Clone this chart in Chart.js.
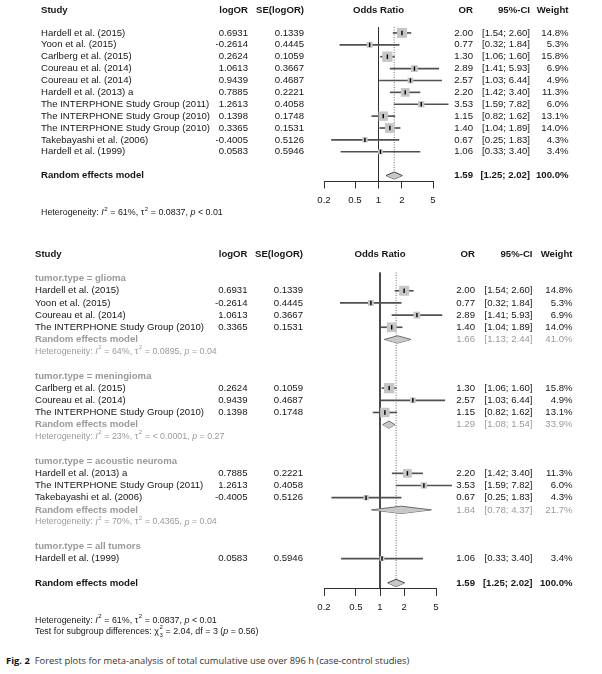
<!DOCTYPE html>
<html>
<head>
<meta charset="utf-8">
<script src="https://cdn.jsdelivr.net/npm/chart.js@4.4.0/dist/chart.umd.min.js"></script>
<style>
body { margin: 0; background: #fff; }
#wrap { position: relative; width: 602px; height: 674px; overflow: hidden; }
#c1 { position: absolute; left: 0; top: 0; }
#c2 { position: absolute; left: 0; top: 228px; }
#cap { position: absolute; left: 6px; top: 654px; font-family: 'Open Sans', sans-serif; font-size: 9.4px; color: #333; white-space: nowrap; }
#cap b { color: #111; }
</style>
</head>
<body>
<div id="wrap">
<canvas id="c1" width="602" height="228" style="width:602px;height:228px"></canvas>
<canvas id="c2" width="602" height="420" style="width:602px;height:420px"></canvas>
<div id="cap"><b>Fig. 2</b>&nbsp; Forest plots for meta-analysis of total cumulative use over 896 h (case-control studies)</div>
</div>
<script>
// studies, in the order of the first panel
var studies = ['Hardell et al. (2015)', 'Yoon et al. (2015)', 'Carlberg et al. (2015)', 'Coureau et al. (2014)',
  'Coureau et al. (2014)', 'Hardell et al. (2013) a', 'The INTERPHONE Study Group (2011)',
  'The INTERPHONE Study Group (2010)', 'The INTERPHONE Study Group (2010)', 'Takebayashi et al. (2006)',
  'Hardell et al. (1999)'];
var logOR = [0.6931, -0.2614, 0.2624, 1.0613, 0.9439, 0.7885, 1.2613, 0.1398, 0.3365, -0.4005, 0.0583];
var seLogOR = [0.1339, 0.4445, 0.1059, 0.3667, 0.4687, 0.2221, 0.4058, 0.1748, 0.1531, 0.5126, 0.5946];
var oddsRatio = [2.00, 0.77, 1.30, 2.89, 2.57, 2.20, 3.53, 1.15, 1.40, 0.67, 1.06];
var ciLow = [1.54, 0.32, 1.06, 1.41, 1.03, 1.42, 1.59, 0.82, 1.04, 0.25, 0.33];
var ciHigh = [2.60, 1.84, 1.60, 5.93, 6.44, 3.40, 7.82, 1.62, 1.89, 1.83, 3.40];
var weight = [14.8, 5.3, 15.8, 6.9, 4.9, 11.3, 6.0, 13.1, 14.0, 4.3, 3.4];
var tumorType = ['glioma', 'glioma', 'meningioma', 'glioma', 'meningioma', 'acoustic neuroma',
  'acoustic neuroma', 'meningioma', 'glioma', 'acoustic neuroma', 'all tumors'];

// subgroups (random effects)
var groups = ['glioma', 'meningioma', 'acoustic neuroma', 'all tumors'];
var groupOR = [1.66, 1.29, 1.84, null];
var groupLow = [1.13, 1.08, 0.78, null];
var groupHigh = [2.44, 1.54, 4.37, null];
var groupWeight = [41.0, 33.9, 21.7, null];
var groupI2 = ['64%', '23%', '70%', null];
var groupTau2 = ['0.0895', '< 0.0001', '0.4365', null];
var groupP = ['= 0.04', '= 0.27', '= 0.04', null];

// overall random effects model
var overall = { or: 1.59, low: 1.25, high: 2.02, weight: 100.0 };
var overallHet = { i2: '61%', tau2: '0.0837', p: '< 0.01' };
var subgroupTest = { chi2: '2.04', df: '3', p: '0.56' };

var xTicks = [0.2, 0.5, 1, 2, 5];

var FONT = "'Liberation Sans', Arial, sans-serif";
var BLACK = '#161616', GRAY = '#9a9a9a';
var FS = 9.6, FS_SMALL = 8.9, DH = 0.3;

function hetParts(i2, tau2, p) {
  return [['Heterogeneity: ', 'n'], ['I', 'i'], ['2', 'sup'], [' = ' + i2 + ', ', 'n'], ['\u03c4', 'n'], ['2', 'sup'],
    [' = ' + tau2 + ', ', 'n'], ['p', 'i'], [' ' + p, 'n']];
}

function drawRich(ctx, x, y, parts, size, color) {
  ctx.fillStyle = color;
  ctx.textAlign = 'left';
  ctx.textBaseline = 'middle';
  parts.forEach(function (p) {
    if (p[1] === 'sup' || p[1] === 'supsub') {
      ctx.font = (size * 0.68) + 'px ' + FONT;
      var w = ctx.measureText(p[0]).width;
      ctx.fillText(p[0], x + 0.6, y - size * 0.45);
      if (p[1] === 'supsub') {
        ctx.fillText(p[2], x + 0.6, y + size * 0.42);
        w = Math.max(w, ctx.measureText(p[2]).width);
      }
      x += w + 0.8;
    } else {
      ctx.font = (p[1] === 'i' ? 'italic ' : '') + size + 'px ' + FONT;
      ctx.fillText(p[0], x, y);
      x += ctx.measureText(p[0]).width;
    }
  });
}

var tablePlugin = {
  id: 'table',
  afterDraw: function (chart) {
    var o = chart.options.plugins.table;
    var ctx = chart.ctx, ys = chart.scales.y, area = chart.chartArea, c = o.cols;
    ctx.save();
    function txt(s, x, r, align, bold, color) {
      ctx.font = (bold ? 'bold ' : '') + FS + 'px ' + FONT;
      ctx.fillStyle = color || BLACK;
      ctx.textAlign = align;
      ctx.textBaseline = 'middle';
      ctx.fillText(s, x, ys.getPixelForValue(r));
    }
    var h = o.headerRow;
    txt('Study', c.study, h, 'left', true);
    txt('logOR', c.logOR, h, 'right', true);
    txt('SE(logOR)', c.se, h, 'right', true);
    txt('Odds Ratio', (area.left + area.right) / 2, h, 'center', true);
    txt('OR', c.or, h, 'right', true);
    txt('95%-CI', c.ci, h, 'right', true);
    txt('Weight', c.w, h, 'right', true);
    o.rows.forEach(function (row) {
      var r = row.r;
      if (row.kind === 'study') {
        var i = row.i;
        txt(studies[i], c.study, r, 'left', false);
        txt(logOR[i].toFixed(4), c.logOR, r, 'right', false);
        txt(seLogOR[i].toFixed(4), c.se, r, 'right', false);
        txt(oddsRatio[i].toFixed(2), c.or, r, 'right', false);
        txt('[' + ciLow[i].toFixed(2) + '; ' + ciHigh[i].toFixed(2) + ']', c.ci, r, 'right', false);
        txt(weight[i].toFixed(1) + '%', c.w, r, 'right', false);
      } else if (row.kind === 'group') {
        txt('tumor.type = ' + groups[row.g], c.study, r, 'left', true, GRAY);
      } else if (row.kind === 'sub' || row.kind === 'overall') {
        var col = row.kind === 'sub' ? GRAY : BLACK, b = row.kind === 'overall';
        txt('Random effects model', c.study, r, 'left', true, col);
        txt(row.or.toFixed(2), c.or, r, 'right', b, col);
        txt('[' + row.low.toFixed(2) + '; ' + row.high.toFixed(2) + ']', c.ci, r, 'right', b, col);
        txt(row.weight.toFixed(1) + '%', c.w, r, 'right', b, col);
      } else if (row.kind === 'het') {
        drawRich(ctx, c.study, ys.getPixelForValue(r), row.parts, row.size || FS_SMALL, row.color || BLACK);
      }
    });
    ctx.restore();
  }
};

function forest(id, rows, o) {
  var st = rows.filter(function (r) { return r.kind === 'study'; });
  var sums = rows.filter(function (r) { return r.kind === 'sub' || r.kind === 'overall'; });
  var ovRow = rows.filter(function (r) { return r.kind === 'overall'; })[0].r;
  var pts = st.map(function (r) { return { x: oddsRatio[r.i], y: r.r }; });
  var ds = [
    { type: 'scatter', data: pts, pointStyle: 'line', pointRotation: 90, pointRadius: 2.2,
      pointBorderColor: '#000', pointBorderWidth: 1.4, order: 0, clip: false },
    { type: 'scatter', data: pts, pointStyle: 'rect',
      pointRadius: st.map(function (r) { return 2.6 * Math.sqrt(weight[r.i]) / 1.414; }),
      pointBackgroundColor: '#c6c6c6', pointBorderWidth: 0, order: 1, clip: false },
    { type: 'bar', indexAxis: 'y', data: st.map(function (r) { return { x: [ciLow[r.i], ciHigh[r.i]], y: r.r }; }),
      backgroundColor: '#505050', barThickness: 1, order: 2, clip: false },
    { type: 'line', data: [{ x: 1, y: o.yMin }, { x: 1, y: o.yMax }], borderColor: '#303030', borderWidth: 1,
      pointRadius: 0, order: 5, clip: false },
    { type: 'line', data: [{ x: overall.or, y: o.yMin }, { x: overall.or, y: ovRow - DH }], borderColor: '#707070',
      borderWidth: 1, borderDash: [1, 1.5], pointRadius: 0, order: 5, clip: false }
  ];
  sums.forEach(function (s) {
    var edge = s.kind === 'sub' ? '#6a6a6a' : '#404040';
    ds.push({ type: 'line', data: [{ x: s.low, y: s.r }, { x: s.or, y: s.r - DH }, { x: s.high, y: s.r }],
      borderColor: edge, borderWidth: 1, backgroundColor: '#c8c8c8', fill: '+1', pointRadius: 0, order: 3, clip: false });
    ds.push({ type: 'line', data: [{ x: s.low, y: s.r }, { x: s.or, y: s.r + DH }, { x: s.high, y: s.r }],
      borderColor: edge, borderWidth: 1, fill: false, pointRadius: 0, order: 3, clip: false });
  });
  return new Chart(document.getElementById(id), {
    type: 'scatter',
    data: { datasets: ds },
    plugins: [tablePlugin],
    options: {
      responsive: false, animation: false, events: [],
      layout: { padding: o.padding, autoPadding: false },
      plugins: {
        legend: { display: false }, tooltip: { enabled: false },
        table: { rows: rows, cols: o.cols, headerRow: o.headerRow }
      },
      scales: {
        x: {
          type: 'logarithmic', min: xTicks[0], max: xTicks[xTicks.length - 1], offset: false,
          afterBuildTicks: function (s) { s.ticks = xTicks.map(function (v) { return { value: v }; }); },
          ticks: { callback: function (v) { return String(v); }, font: { family: FONT, size: FS }, color: BLACK,
            padding: 6, maxRotation: 0, autoSkip: false },
          grid: { drawOnChartArea: false, drawTicks: true, tickLength: 7, color: '#303030', lineWidth: 1, offset: false },
          border: { display: true, color: '#303030', width: 1 }
        },
        y: { type: 'linear', reverse: true, min: o.yMin, max: o.yMax, display: false, offset: false,
          grid: { offset: false } }
      }
    }
  });
}

// panel 1: all studies
var rows1 = studies.map(function (s, i) { return { kind: 'study', i: i, r: i }; });
rows1.push({ kind: 'overall', r: 12, or: overall.or, low: overall.low, high: overall.high, weight: overall.weight });
rows1.push({ kind: 'het', r: 15.15, parts: hetParts(overallHet.i2, overallHet.tau2, overallHet.p) });
forest('c1', rows1, {
  yMin: -0.5, yMax: 12.5, headerRow: -1.92,
  padding: { left: 324, right: 169, top: 27, bottom: 16 },
  cols: { study: 41, logOR: 248, se: 304, or: 473, ci: 530, w: 568.5 }
});

// panel 2: by tumor type
var rows2 = [], r = 0;
groups.forEach(function (g, gi) {
  rows2.push({ kind: 'group', g: gi, r: r++ });
  tumorType.forEach(function (t, i) { if (t === g) rows2.push({ kind: 'study', i: i, r: r++ }); });
  if (groupOR[gi] !== null) {
    rows2.push({ kind: 'sub', r: r++, or: groupOR[gi], low: groupLow[gi], high: groupHigh[gi], weight: groupWeight[gi] });
    rows2.push({ kind: 'het', r: r++, parts: hetParts(groupI2[gi], groupTau2[gi], groupP[gi]), color: GRAY });
  }
  r++;
});
rows2.push({ kind: 'overall', r: r, or: overall.or, low: overall.low, high: overall.high, weight: overall.weight });
rows2.push({ kind: 'het', r: r + 3.1, parts: hetParts(overallHet.i2, overallHet.tau2, overallHet.p) });
rows2.push({ kind: 'het', r: r + 4, parts: [['Test for subgroup differences: ', 'n'], ['\u03c7', 'n'], ['2', 'supsub', subgroupTest.df],
  [' = ' + subgroupTest.chi2 + ', df = ' + subgroupTest.df + ' (', 'n'], ['p', 'i'], [' = ' + subgroupTest.p + ')', 'n']] });
forest('c2', rows2, {
  yMin: -0.5, yMax: r + 0.5, headerRow: -1.97,
  padding: { left: 324, right: 166, top: 44.5, bottom: 28.5 },
  cols: { study: 35, logOR: 247.5, se: 303, or: 475, ci: 532.5, w: 572.5 }
});
</script>
</body>
</html>
